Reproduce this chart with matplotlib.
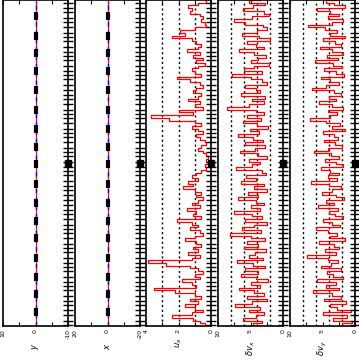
import numpy as np
from matplotlib import pyplot as plt

# sample values (index runs top to bottom)
u_x = [0.4, 0.3, 0.8, 1.4, 1.2, 1.3, 0.7, 0.5, 0.6, 0.4, 0.3, 1.0, 1.9, 1.6, 2.4,
       1.2, 0.9, 0.6, 0.8, 1.5, 0.7, 1.1, 0.5, 0.9, 0.4, 0.8, 1.2, 1.0, 0.6, 2.1,
       1.3, 0.7, 0.5, 0.9, 1.1, 0.6, 0.8, 1.4, 0.7, 1.0, 0.5, 2.0, 1.1, 3.7, 2.6,
       1.0, 0.6, 1.2, 0.8, 0.5, 0.9, 0.7, 0.4, 0.3, 0.6, 0.8, 0.5, 0.3, 0.2, 0.3,
       0.2, 0.4, 0.3, 0.6, 0.9, 1.2, 0.8, 1.4, 1.1, 1.7, 1.0, 0.6, 0.9, 0.5, 0.8,
       1.2, 0.7, 1.5, 0.9, 1.1, 0.6, 2.1, 1.2, 0.8, 1.3, 0.7, 0.5, 1.0, 1.6, 0.9,
       0.6, 1.1, 0.8, 1.4, 0.7, 1.2, 3.9, 2.8, 1.3, 0.8, 0.5, 1.0, 0.7, 1.8, 1.2,
       0.9, 3.5, 2.2, 1.0, 0.6, 1.3, 0.8, 1.6, 1.0, 0.5, 1.2, 2.4, 1.1, 0.7, 0.4]

dv_x = [3.5, 5.2, 2.8, 4.6, 6.1, 3.0, 2.2, 4.8, 7.5, 5.9, 3.1, 2.4, 4.0, 6.3, 3.7,
        2.0, 5.5, 4.2, 3.0, 6.8, 4.5, 2.6, 3.8, 5.0, 2.2, 4.4, 6.0, 3.3, 7.8, 4.9,
        3.2, 2.5, 5.8, 4.1, 3.6, 6.4, 2.8, 4.7, 3.0, 5.3, 8.6, 4.2, 2.9, 5.6, 3.4,
        6.2, 4.0, 2.3, 5.1, 3.7, 7.0, 4.6, 3.1, 5.9, 2.7, 4.3, 6.6, 3.9, 2.4, 5.2,
        3.5, 4.8, 7.2, 3.3, 2.6, 5.7, 4.1, 6.5, 3.0, 4.4, 2.5, 5.4, 3.8, 6.9, 4.2,
        2.9, 5.0, 3.6, 7.6, 4.7, 3.2, 5.8, 2.4, 4.5, 6.3, 3.4, 8.2, 4.9, 2.8, 5.5,
        3.9, 6.0, 2.6, 4.3, 5.2, 3.1, 7.1, 4.6, 2.7, 5.9, 3.8, 6.4, 4.1, 2.3, 5.0,
        3.6, 6.8, 4.4, 3.0, 5.6, 2.5, 4.8, 7.4, 3.5, 5.3, 2.9, 4.2, 6.1, 3.3, 4.6]

dv_y = [2.8, 4.5, 3.2, 1.6, 5.8, 3.9, 2.4, 4.1, 1.8, 3.5, 7.2, 4.6, 2.7, 3.8, 1.5,
        4.9, 3.1, 2.2, 5.4, 3.6, 1.9, 4.3, 2.6, 6.1, 3.4, 2.0, 4.7, 3.0, 1.7, 5.2,
        3.8, 2.5, 4.4, 6.6, 3.2, 2.1, 4.0, 2.9, 5.6, 3.5, 1.8, 4.2, 2.7, 3.9, 7.0,
        4.5, 2.3, 3.6, 1.6, 5.0, 3.3, 2.6, 4.8, 3.1, 2.0, 4.1, 6.3, 3.7, 2.4, 4.6,
        3.0, 1.9, 5.3, 3.8, 2.5, 4.2, 2.8, 6.8, 4.0, 2.2, 3.6, 5.1, 2.9, 1.7, 4.4,
        3.3, 5.7, 2.6, 4.0, 3.1, 1.8, 4.9, 3.5, 2.3, 6.0, 4.2, 2.7, 3.8, 1.6, 5.5,
        3.2, 2.4, 4.6, 3.0, 7.4, 4.1, 2.6, 3.7, 5.2, 2.1, 4.3, 3.4, 1.9, 5.8, 3.0,
        4.5, 2.5, 6.5, 3.6, 2.2, 4.8, 1.4, 3.9, 2.8, 0.6, 5.0, 1.2, 3.4, 0.4, 2.0]

pos_y = [0.0] * len(u_x)
pos_x = [0.0] * len(u_x)

# black markers along the edge / centre line (sample indices)
edge_ticks = [1, 3, 4.5, 6.5, 8, 10, 12, 13.5, 15, 17, 19, 20.5, 22, 24, 26, 27.5,
              29, 31, 33, 34.5, 36, 38, 40, 41.5, 43, 45, 47, 48.5, 50, 52, 54, 55.5,
              57, 59, 61, 62.5, 64, 66, 68, 69.5, 71, 73, 75, 76.5, 78, 80, 82, 83.5,
              85, 87, 89, 90.5, 92, 94, 96, 97.5, 99, 101, 103, 104.5, 106, 108, 110,
              111.5, 113, 115, 117, 118.5]
centre_marks = [6, 13, 19.5, 26, 33, 40, 47, 53.5, 60, 67, 74, 80.5, 87, 94, 101, 107.5, 114]
big_mark = 59.5

panels = [
    dict(data=pos_y, lim=(10, -10), major=[10, 0, -10], minor=[5, -5], dots=[],
         label="$y$", centre=True),
    dict(data=pos_x, lim=(20, -20), major=[20, 0, -20], minor=[10, -10], dots=[],
         label="$x$", centre=True),
    dict(data=u_x, lim=(4, 0), major=[4, 2, 0], minor=[3, 1], dots=[1, 2, 3],
         label="$u_x$", centre=False),
    dict(data=dv_x, lim=(10, 0), major=[10, 5, 0], minor=[7.5, 2.5], dots=[2, 4, 6, 8],
         label=r"$\delta v_x$", centre=False),
    dict(data=dv_y, lim=(10, 0), major=[10, 5, 0], minor=[7.5, 2.5], dots=[2, 4, 6, 8],
         label=r"$\delta v_y$", centre=False),
]

W, H = 359, 360
lefts = [3, 75, 146, 218, 290]
width = 65
bottom_px = 326

fig = plt.figure(figsize=(W / 100, H / 100), dpi=100)
n = len(u_x)
idx = np.arange(n)

for left, p in zip(lefts, panels):
    ax = fig.add_axes([left / W, (H - bottom_px) / H, width / W, bottom_px / H])
    for d in p["dots"]:
        ax.axvline(d, color="black", ls=(0, (1.5, 2)), lw=1.0)
    ax.plot(p["data"], idx, color="red", lw=0.9, drawstyle="steps-post")
    if p["centre"]:
        ax.axvline(0, color="blue", lw=1.0, ls=(0, (3, 3)))
        ax.plot([0] * len(centre_marks), centre_marks, ls="none", marker="|",
                ms=6, mew=3, color="black")
    else:
        ax.axvline(0, color="blue", lw=1.0)
    right = p["lim"][1]
    ax.plot([right] * len(edge_ticks), edge_ticks, ls="none", marker="_",
            ms=7, mew=1.0, color="black", clip_on=False)
    ax.plot([right], [big_mark], ls="none", marker="s", ms=5, color="black",
            clip_on=False)
    ax.set_xlim(*p["lim"])
    ax.set_ylim(n - 1, 0)
    ax.set_xticks(p["major"])
    ax.set_xticklabels([str(v) for v in p["major"]], rotation=90, fontsize=4.5)
    ax.set_xticks(p["minor"], minor=True)
    ax.set_yticks([])
    ax.tick_params(axis="x", which="both", direction="in", top=True, length=3,
                   width=0.8, pad=2)
    ax.set_xlabel(p["label"], rotation=90, fontsize=6, labelpad=3)
    for s in ax.spines.values():
        s.set_linewidth(1.2)

fig.savefig("out.png", dpi=100)
